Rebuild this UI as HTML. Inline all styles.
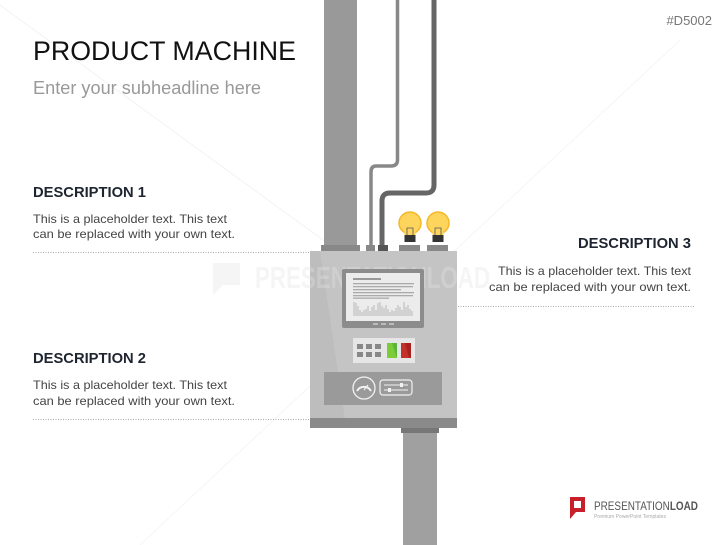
<!DOCTYPE html>
<html><head><meta charset="utf-8"><style>
html,body{margin:0;padding:0;background:#fff;width:727px;height:545px;overflow:hidden}
svg{display:block}
text{font-family:"Liberation Sans",sans-serif}
</style></head><body>
<svg width="727" height="545" viewBox="0 0 727 545" xmlns="http://www.w3.org/2000/svg">
<!-- faint diagonals -->
<line x1="0" y1="5" x2="330" y2="245" stroke="#f3f3f3" stroke-width="1"/>
<line x1="680" y1="40" x2="140" y2="545" stroke="#f5f5f5" stroke-width="1"/>
<!-- texts -->
<text x="712" y="25" font-size="13" fill="#777" text-anchor="end">#D5002</text>
<text x="33" y="60" font-size="27" fill="#111" textLength="263" lengthAdjust="spacingAndGlyphs">PRODUCT MACHINE</text>
<text x="33" y="94" font-size="18" fill="#999" textLength="228" lengthAdjust="spacingAndGlyphs">Enter your subheadline here</text>

<text x="33" y="197" font-size="15" font-weight="bold" fill="#1e2530" textLength="113" lengthAdjust="spacingAndGlyphs">DESCRIPTION 1</text>
<text x="33" y="223" font-size="12" fill="#444" textLength="194" lengthAdjust="spacingAndGlyphs">This is a placeholder text. This text</text>
<text x="33" y="238" font-size="12" fill="#444" textLength="202" lengthAdjust="spacingAndGlyphs">can be replaced with your own text.</text>
<line x1="33" y1="252.5" x2="310" y2="252.5" stroke="#aaa" stroke-dasharray="1,1.5"/>

<text x="33" y="363" font-size="15" font-weight="bold" fill="#1e2530" textLength="113" lengthAdjust="spacingAndGlyphs">DESCRIPTION 2</text>
<text x="33" y="389" font-size="12" fill="#444" textLength="194" lengthAdjust="spacingAndGlyphs">This is a placeholder text. This text</text>
<text x="33" y="405" font-size="12" fill="#444" textLength="202" lengthAdjust="spacingAndGlyphs">can be replaced with your own text.</text>
<line x1="33" y1="419.5" x2="310" y2="419.5" stroke="#aaa" stroke-dasharray="1,1.5"/>

<text x="578" y="248" font-size="15" font-weight="bold" fill="#1e2530" textLength="113" lengthAdjust="spacingAndGlyphs">DESCRIPTION 3</text>
<text x="498" y="275" font-size="12" fill="#444" textLength="193" lengthAdjust="spacingAndGlyphs">This is a placeholder text. This text</text>
<text x="489" y="291" font-size="12" fill="#444" textLength="202" lengthAdjust="spacingAndGlyphs">can be replaced with your own text.</text>
<line x1="458" y1="306.5" x2="695" y2="306.5" stroke="#aaa" stroke-dasharray="1,1.5"/>

<!-- pole and pipes -->
<rect x="324" y="0" width="33" height="246" fill="#999"/>
<path d="M397.5 0 V160 Q397.5 166 391 166 H376 Q371 166 371 172 V246" fill="none" stroke="#888" stroke-width="3.5"/>
<path d="M434 0 V185 Q434 193 426 193 H390 Q382 193 382 201 V246" fill="none" stroke="#666" stroke-width="5"/>
<!-- bulbs -->
<g>
<circle cx="410" cy="223" r="11" fill="#fdd45c" stroke="#f5b82a" stroke-width="1.5"/>
<rect x="404.5" y="228" width="11" height="8" fill="#fdd45c"/>
<rect x="404.5" y="235" width="11" height="7" fill="#333"/>
<path d="M407 235 V228 h6 v7" fill="none" stroke="#555" stroke-width="0.8"/>
<circle cx="438" cy="223" r="11" fill="#fdd45c" stroke="#f5b82a" stroke-width="1.5"/>
<rect x="432.5" y="228" width="11" height="8" fill="#fdd45c"/>
<rect x="432.5" y="235" width="11" height="7" fill="#333"/>
<path d="M435 235 V228 h6 v7" fill="none" stroke="#555" stroke-width="0.8"/>
</g>
<!-- caps -->
<rect x="321" y="245" width="39" height="6" fill="#888"/>
<rect x="366" y="245" width="9" height="6" fill="#888"/>
<rect x="378" y="245" width="10" height="6" fill="#555"/>
<rect x="399" y="245" width="21" height="6" fill="#888"/>
<rect x="427" y="245" width="21" height="6" fill="#888"/>
<!-- box -->
<rect x="310" y="251" width="147" height="168" fill="#c4c4c4"/>
<polygon points="310,251 320,251 345,419 310,419" fill="#bdbdbd"/>
<rect x="310" y="418" width="147" height="10" fill="#8a8a8a"/>
<!-- watermark -->
<g opacity="0.35" fill="#e4e4e4">
<path d="M213 263 h27 v22 h-17 l-10 10 z"/>
<text x="255" y="288" font-size="31" font-weight="bold" textLength="235" lengthAdjust="spacingAndGlyphs">PRESENTATIONLOAD</text>
</g>
<!-- screen -->
<rect x="342" y="269" width="82" height="59" fill="#8c8c8c" rx="2"/>
<rect x="346" y="273" width="74" height="48" fill="#ececec"/>
<rect x="353" y="278" width="28" height="2" fill="#999"/>
<g fill="#aaa">
<rect x="353" y="283" width="61" height="1.3"/><rect x="353" y="286" width="60" height="1.3"/><rect x="353" y="289" width="48" height="1.3"/>
<rect x="353" y="292" width="61" height="1.3"/><rect x="353" y="295" width="60" height="1.3"/><rect x="353" y="297.5" width="36" height="1.3"/>
</g>
<path d="M354 316 V302 M356 316 V303 M358 316 V306 M360 316 V310 M362 316 V312 M364 316 V310 M366 316 V309 M368 316 V306 M370 316 V311 M372 316 V307 M374 316 V305 M376 316 V310 M378 316 V303 M380 316 V302 M382 316 V306 M384 316 V308 M386 316 V305 M388 316 V309 M390 316 V312 M392 316 V310 M394 316 V311 M396 316 V308 M398 316 V305 M400 316 V307 M402 316 V310 M404 316 V302 M406 316 V307 M408 316 V305 M410 316 V309 M412 316 V311" stroke="#aaa" stroke-width="0.8"/>
<rect x="373" y="323" width="5" height="2" fill="#bbb"/><rect x="381" y="323" width="5" height="2" fill="#bbb"/><rect x="389" y="323" width="5" height="2" fill="#bbb"/>
<!-- button panel -->
<rect x="353" y="338" width="62" height="25" fill="#e6e6e6"/>
<g fill="#888">
<rect x="357" y="344" width="6" height="5"/><rect x="366" y="344" width="6" height="5"/><rect x="375" y="344" width="6" height="5"/>
<rect x="357" y="352" width="6" height="5"/><rect x="366" y="352" width="6" height="5"/><rect x="375" y="352" width="6" height="5"/>
</g>
<rect x="387" y="343" width="10" height="15" fill="#5ab53a"/>
<polygon points="387,343 392,343 397,358 387,358" fill="#7ccc3a"/>
<rect x="401" y="343" width="10" height="15" fill="#a8211f"/>
<polygon points="401,343 405,343 409,358 401,358" fill="#c4302b"/>
<!-- lower panel -->
<rect x="324" y="372" width="118" height="33" fill="#9a9a9a"/>
<circle cx="364" cy="388" r="11" fill="none" stroke="#f2f2f2" stroke-width="1.3"/>
<path d="M357 391 A8 8 0 0 1 371 391" fill="none" stroke="#f2f2f2" stroke-width="2"/>
<line x1="364" y1="390" x2="368" y2="385" stroke="#f2f2f2" stroke-width="1.2"/>
<rect x="380" y="380" width="32" height="15" rx="3" fill="none" stroke="#f2f2f2" stroke-width="1.2"/>
<line x1="384" y1="385" x2="408" y2="385" stroke="#f2f2f2"/><rect x="400" y="383" width="3" height="4" fill="#f2f2f2"/>
<line x1="384" y1="390" x2="408" y2="390" stroke="#f2f2f2"/><rect x="388" y="388" width="3" height="4" fill="#f2f2f2"/>
<!-- lower pole -->
<rect x="403" y="428" width="34" height="117" fill="#a0a0a0"/>
<rect x="401" y="428" width="38" height="5" fill="#777"/>
<!-- logo -->
<path d="M570 497 h15 v15 h-9 l-6 7 z" fill="#c8202a"/>
<rect x="574" y="501" width="7" height="7" fill="#fff"/>
<text x="594" y="510" font-size="12" fill="#555" textLength="104" lengthAdjust="spacingAndGlyphs">PRESENTATION<tspan font-weight="bold">LOAD</tspan></text>
<text x="594" y="518" font-size="5" fill="#aaa" textLength="72" lengthAdjust="spacingAndGlyphs">Premium PowerPoint Templates</text>
</svg>
</body></html>
